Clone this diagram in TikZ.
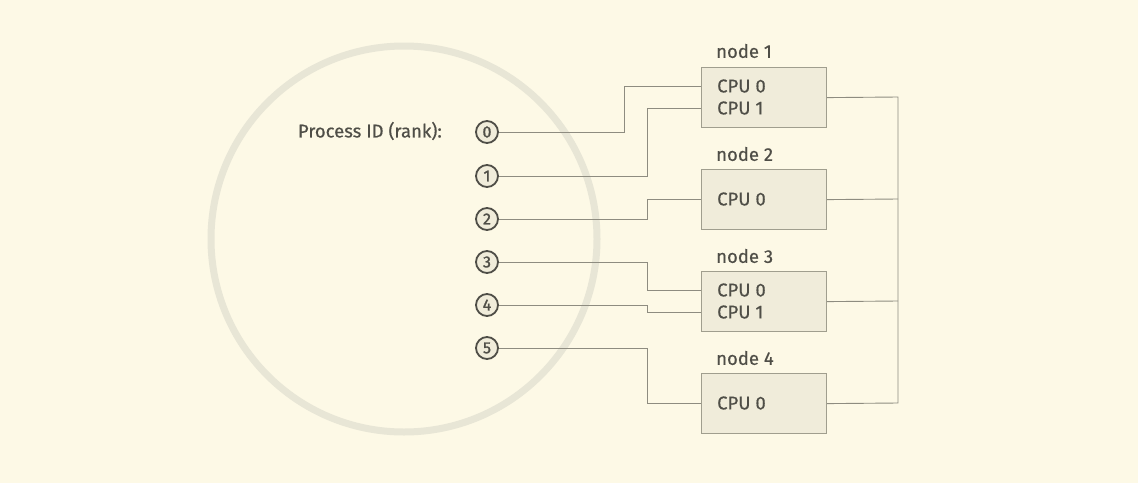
\documentclass[tikz,border=0pt]{standalone}
\usepackage{fontspec}
\setmainfont{Fira Sans}[UprightFeatures={FakeBold=0.5}]
\newfontfamily\rankfont{Fira Sans}[UprightFeatures={FakeBold=1.5}]
\definecolor{bg}{HTML}{FDF9E6}
\definecolor{ring}{HTML}{E8E6D6}
\definecolor{txt}{HTML}{4F4E47}
\definecolor{wire}{HTML}{8E8C80}
\definecolor{boxfill}{HTML}{F0ECDA}
\definecolor{boxline}{HTML}{A09E8E}
\begin{document}
\begin{tikzpicture}[x=1pt,y=-1pt,
  lbl/.style={font=\fontsize{18.5}{20}\selectfont, text=txt, inner sep=0pt},
  rank/.style={circle, draw=txt, fill=boxfill, line width=1.8pt, minimum size=22pt, inner sep=0pt, font=\rankfont\fontsize{16}{16}\selectfont, text=txt},
  cpubox/.style={rectangle, draw=boxline, fill=boxfill, line width=1.2pt, minimum width=125pt, minimum height=60pt, anchor=north west, inner sep=0pt},
  wirel/.style={draw=wire, line width=0.9pt}]
\fill[bg] (0,0) rectangle (1138,483);
\useasboundingbox (0,0) rectangle (1138,483);
\draw[ring, line width=7pt] (404,239) circle (193);
\node[lbl, anchor=east] (pid) at (442,131) {Process ID (rank):};
\foreach \i/\y in {0/132,1/176,2/219,3/262,4/305,5/348}
  \node[rank] (r\i) at (487,\y) {\i};
\node[cpubox] (n1) at (701,67) {};
\node[cpubox] (n2) at (701,169) {};
\node[cpubox] (n3) at (701,271) {};
\node[cpubox] (n4) at (701,373) {};
\foreach \k/\y in {1/51,2/154,3/256,4/358}
  \node[lbl, anchor=west] (t\k) at (716,\y) {node \k};
\node[lbl, anchor=west] (c10) at (717,86) {CPU 0};
\node[lbl, anchor=west] (c11) at (717,108) {CPU 1};
\node[lbl, anchor=west] (c20) at (717,199) {CPU 0};
\node[lbl, anchor=west] (c30) at (717,290) {CPU 0};
\node[lbl, anchor=west] (c31) at (717,312) {CPU 1};
\node[lbl, anchor=west] (c40) at (717,403) {CPU 0};
\coordinate (p10) at (701,86);
\coordinate (p11) at (701,108);
\coordinate (p20) at (701,199);
\coordinate (p30) at (701,290);
\coordinate (p31) at (701,312);
\coordinate (p40) at (701,403);
\draw[wirel] (r0.east) -- (624,132) |- (p10);
\draw[wirel] (r1.east) -- (647,176) |- (p11);
\draw[wirel] (r2.east) -- (647,219) |- (p20);
\draw[wirel] (r3.east) -- (647,262) |- (p30);
\draw[wirel] (r4.east) -- (647,305) |- (p31);
\draw[wirel] (r5.east) -- (647,348) |- (p40);
\coordinate (bt) at (898,97);
\coordinate (bb) at (898,403);
\draw[wirel] (n1.east) -- (bt) -- (bb) -- (n4.east);
\draw[wirel] (n2.east) -- (898,199);
\draw[wirel] (n3.east) -- (898,301);
\end{tikzpicture}
\end{document}
